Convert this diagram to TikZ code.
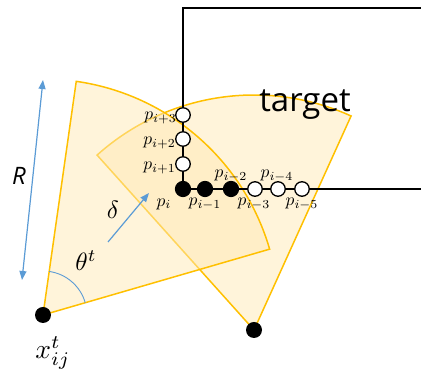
\documentclass[tikz,border=0pt]{standalone}
\usepackage{fontspec}
\newfontfamily\sansfont{Open Sans}
\usetikzlibrary{arrows.meta}
\definecolor{secfill}{HTML}{FFE9B5}
\definecolor{secline}{HTML}{FFC000}
\definecolor{arrblue}{HTML}{5B9BD5}
\pgfdeclarelayer{back}
\pgfdeclarelayer{mid}
\pgfsetlayers{back,mid,main}
\begin{document}
\begin{tikzpicture}[x=1pt,y=1pt,
  sector/.style={fill=secfill, fill opacity=0.5, draw=secline, line width=1.5pt, line join=miter},
  tline/.style={draw=black, line width=2pt},
  bdot/.style={circle, fill=black, draw=black, line width=1.2pt, minimum size=15pt, inner sep=0pt},
  wdot/.style={circle, fill=white, draw=black, line width=1.3pt, minimum size=14.5pt, inner sep=0pt},
  apex/.style={circle, fill=black, minimum size=16pt, inner sep=0pt},
  plab/.style={inner sep=0pt, scale=1.75, transform shape},
  biglab/.style={inner sep=0pt, scale=2.5, transform shape},
  barrow/.style={draw=arrblue, line width=1.2pt, -{Triangle[length=9pt,width=7pt]}}
]
\useasboundingbox (0,0) rectangle (421,371);

% apex dots
\node[apex] (xa) at (43,56) {};
\node[apex] (xb) at (254,41) {};

% sectors
\begin{pgfonlayer}{back}
\draw[sector] (xb.center) -- ++(65.6:235) arc[start angle=65.6, end angle=131.9, radius=235] -- cycle;
\draw[sector] (xa.center) -- ++(16.2:236) arc[start angle=16.2, end angle=81.9, radius=236] -- cycle;
\end{pgfonlayer}

% labels
\node[plab, anchor=east] (lp3) at (177,253) {$p_{i+3}$};
\node[plab, anchor=east] (lp2) at (176,228) {$p_{i+2}$};
\node[plab, anchor=east] (lp1) at (176,203) {$p_{i+1}$};
\node[plab] (lp0) at (164,167) {$p_{i}$};
\node[plab] (lm1) at (205,167) {$p_{i-1}$};
\node[plab] (lm2) at (231,195) {$p_{i-2}$};
\node[plab] (lm3) at (254,167) {$p_{i-3}$};
\node[plab] (lm4) at (277,195) {$p_{i-4}$};
\node[plab] (lm5) at (302,167) {$p_{i-5}$};

% dots
\node[bdot] (pi) at (183,182) {};
\node[bdot] (pm1) at (205,182) {};
\node[bdot] (pm2) at (231,182) {};
\node[wdot] (pm3) at (255,182) {};
\node[wdot] (pm4) at (278,182) {};
\node[wdot] (pm5) at (302,182) {};
\node[wdot] (pp1) at (183,207) {};
\node[wdot] (pp2) at (183,232) {};
\node[wdot] (pp3) at (183,256) {};

% target outline
\coordinate (tr) at (421,363);
\coordinate (tl) at (183,363);
\coordinate (br) at (421,182);
\begin{pgfonlayer}{mid}
\draw[tline] (tr) -- (tl) -- (pi.center) -- (br);
\end{pgfonlayer}

\node[font=\sansfont\fontsize{33}{33}\selectfont, anchor=base, inner sep=0pt] (tgt) at (305,259) {target};

% blue annotations
\coordinate (ra) at (43,291);
\coordinate (rb) at (22,91);
\draw[barrow, {Triangle[length=9pt,width=7pt]}-{Triangle[length=9pt,width=7pt]}] (ra) -- (rb);
\node[font=\sansfont\itshape\fontsize{24}{24}\selectfont, inner sep=0pt] (rlab) at (19,195) {R};
\coordinate (da) at (108,129);
\coordinate (db) at (149,178);
\draw[barrow] (da) -- (db);
\node[biglab] (dlab) at (113,161) {$\delta$};
\draw[draw=arrblue, line width=0.9pt] (xa.center) ++(16.2:44) arc[start angle=16.2, end angle=81.9, radius=44];
\node[biglab] (tlab) at (86,110) {$\theta^{t}$};
\node[biglab, scale=1.1] (xlab) at (53,18) {$x_{ij}^{t}$};
\end{tikzpicture}
\end{document}
